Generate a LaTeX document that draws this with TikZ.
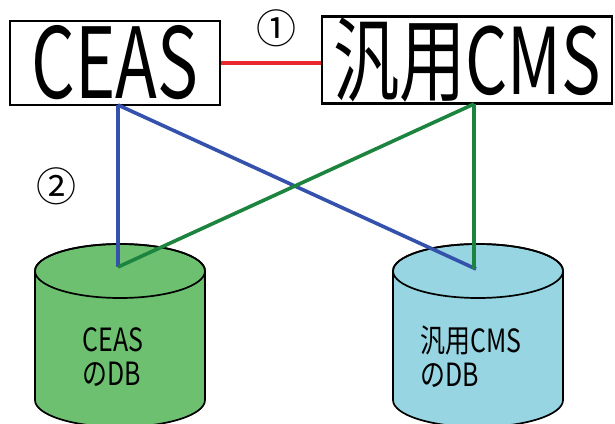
\documentclass[tikz,border=0pt]{standalone}
\usepackage{fontspec}
\usepackage{graphicx}
\setmainfont{Noto Sans CJK JP}
\usepackage{xcolor}

\definecolor{ceasgreen}{RGB}{108,192,112}
\definecolor{cmscyan}{RGB}{150,213,225}
\definecolor{linkblue}{RGB}{52,82,172}
\definecolor{linkgreen}{RGB}{28,132,62}
\definecolor{linkred}{RGB}{232,40,44}

\begin{document}
\begin{tikzpicture}[
  x=1pt, y=-1pt,
  sysbox/.style={draw, line width=2.2pt, inner sep=0pt, font=\fontsize{98}{98}\selectfont},
  dbbody/.style={draw, line width=1.7pt},
  dblabel/.style={align=left, inner sep=0pt, font=\fontsize{32}{34}\selectfont},
  marklabel/.style={inner sep=0pt, font=\fontsize{40}{40}\selectfont},
  redlink/.style={linkred, line width=3.6pt},
  bluelink/.style={linkblue, line width=3.6pt},
  greenlink/.style={linkgreen, line width=3.6pt}
]
\useasboundingbox (0,0) rectangle (615,423);

% databases
\path[dbbody, fill=ceasgreen] (35,271) -- (35,400)
  arc[start angle=180, end angle=0, x radius=85, y radius=27] -- (205,271)
  arc[start angle=0, end angle=-180, x radius=85, y radius=27] -- cycle;
\draw[dbbody] (120,271) ellipse[x radius=85, y radius=27];
\path[dbbody, fill=cmscyan] (393,271) -- (393,400)
  arc[start angle=180, end angle=0, x radius=85, y radius=27] -- (563,271)
  arc[start angle=0, end angle=-180, x radius=85, y radius=27] -- cycle;
\draw[dbbody] (478,271) ellipse[x radius=85, y radius=27];

\node[dblabel] (ceasdb) at (113,357) {\scalebox{0.78}[1]{CEAS}\\\scalebox{0.78}[1]{のDB}};
\node[dblabel, anchor=west] (cmsdb) at (420,357) {\scalebox{0.78}[1]{汎用CMS}\\\scalebox{0.78}[1]{のDB}};

% systems
\node[sysbox, minimum width=210pt, minimum height=84pt] (ceas) at (115,63) {\scalebox{0.7}[1]{CEAS}};
\node[sysbox, minimum width=290pt, minimum height=87pt] (cms) at (467,60)
  {\fontsize{92}{92}\selectfont\scalebox{0.72}[1]{汎用CMS}};

\node[marklabel] (one) at (276,28) {①};
\node[marklabel] (two) at (56,186) {②};

\coordinate (ceas-out) at (118,105);
\coordinate (cms-out) at (474,104);
\coordinate (ceasdb-in) at (118,267);
\coordinate (cmsdb-in) at (476,269);

\draw[redlink] (ceas.east) -- (ceas.east -| cms.west);
\draw[bluelink] (ceas-out) -- (ceasdb-in);
\draw[bluelink] (ceas-out) -- (cmsdb-in);
\draw[greenlink] (cms-out) -- (cms-out |- cmsdb-in);
\draw[greenlink] (cms-out) -- (ceasdb-in);

\end{tikzpicture}
\end{document}
